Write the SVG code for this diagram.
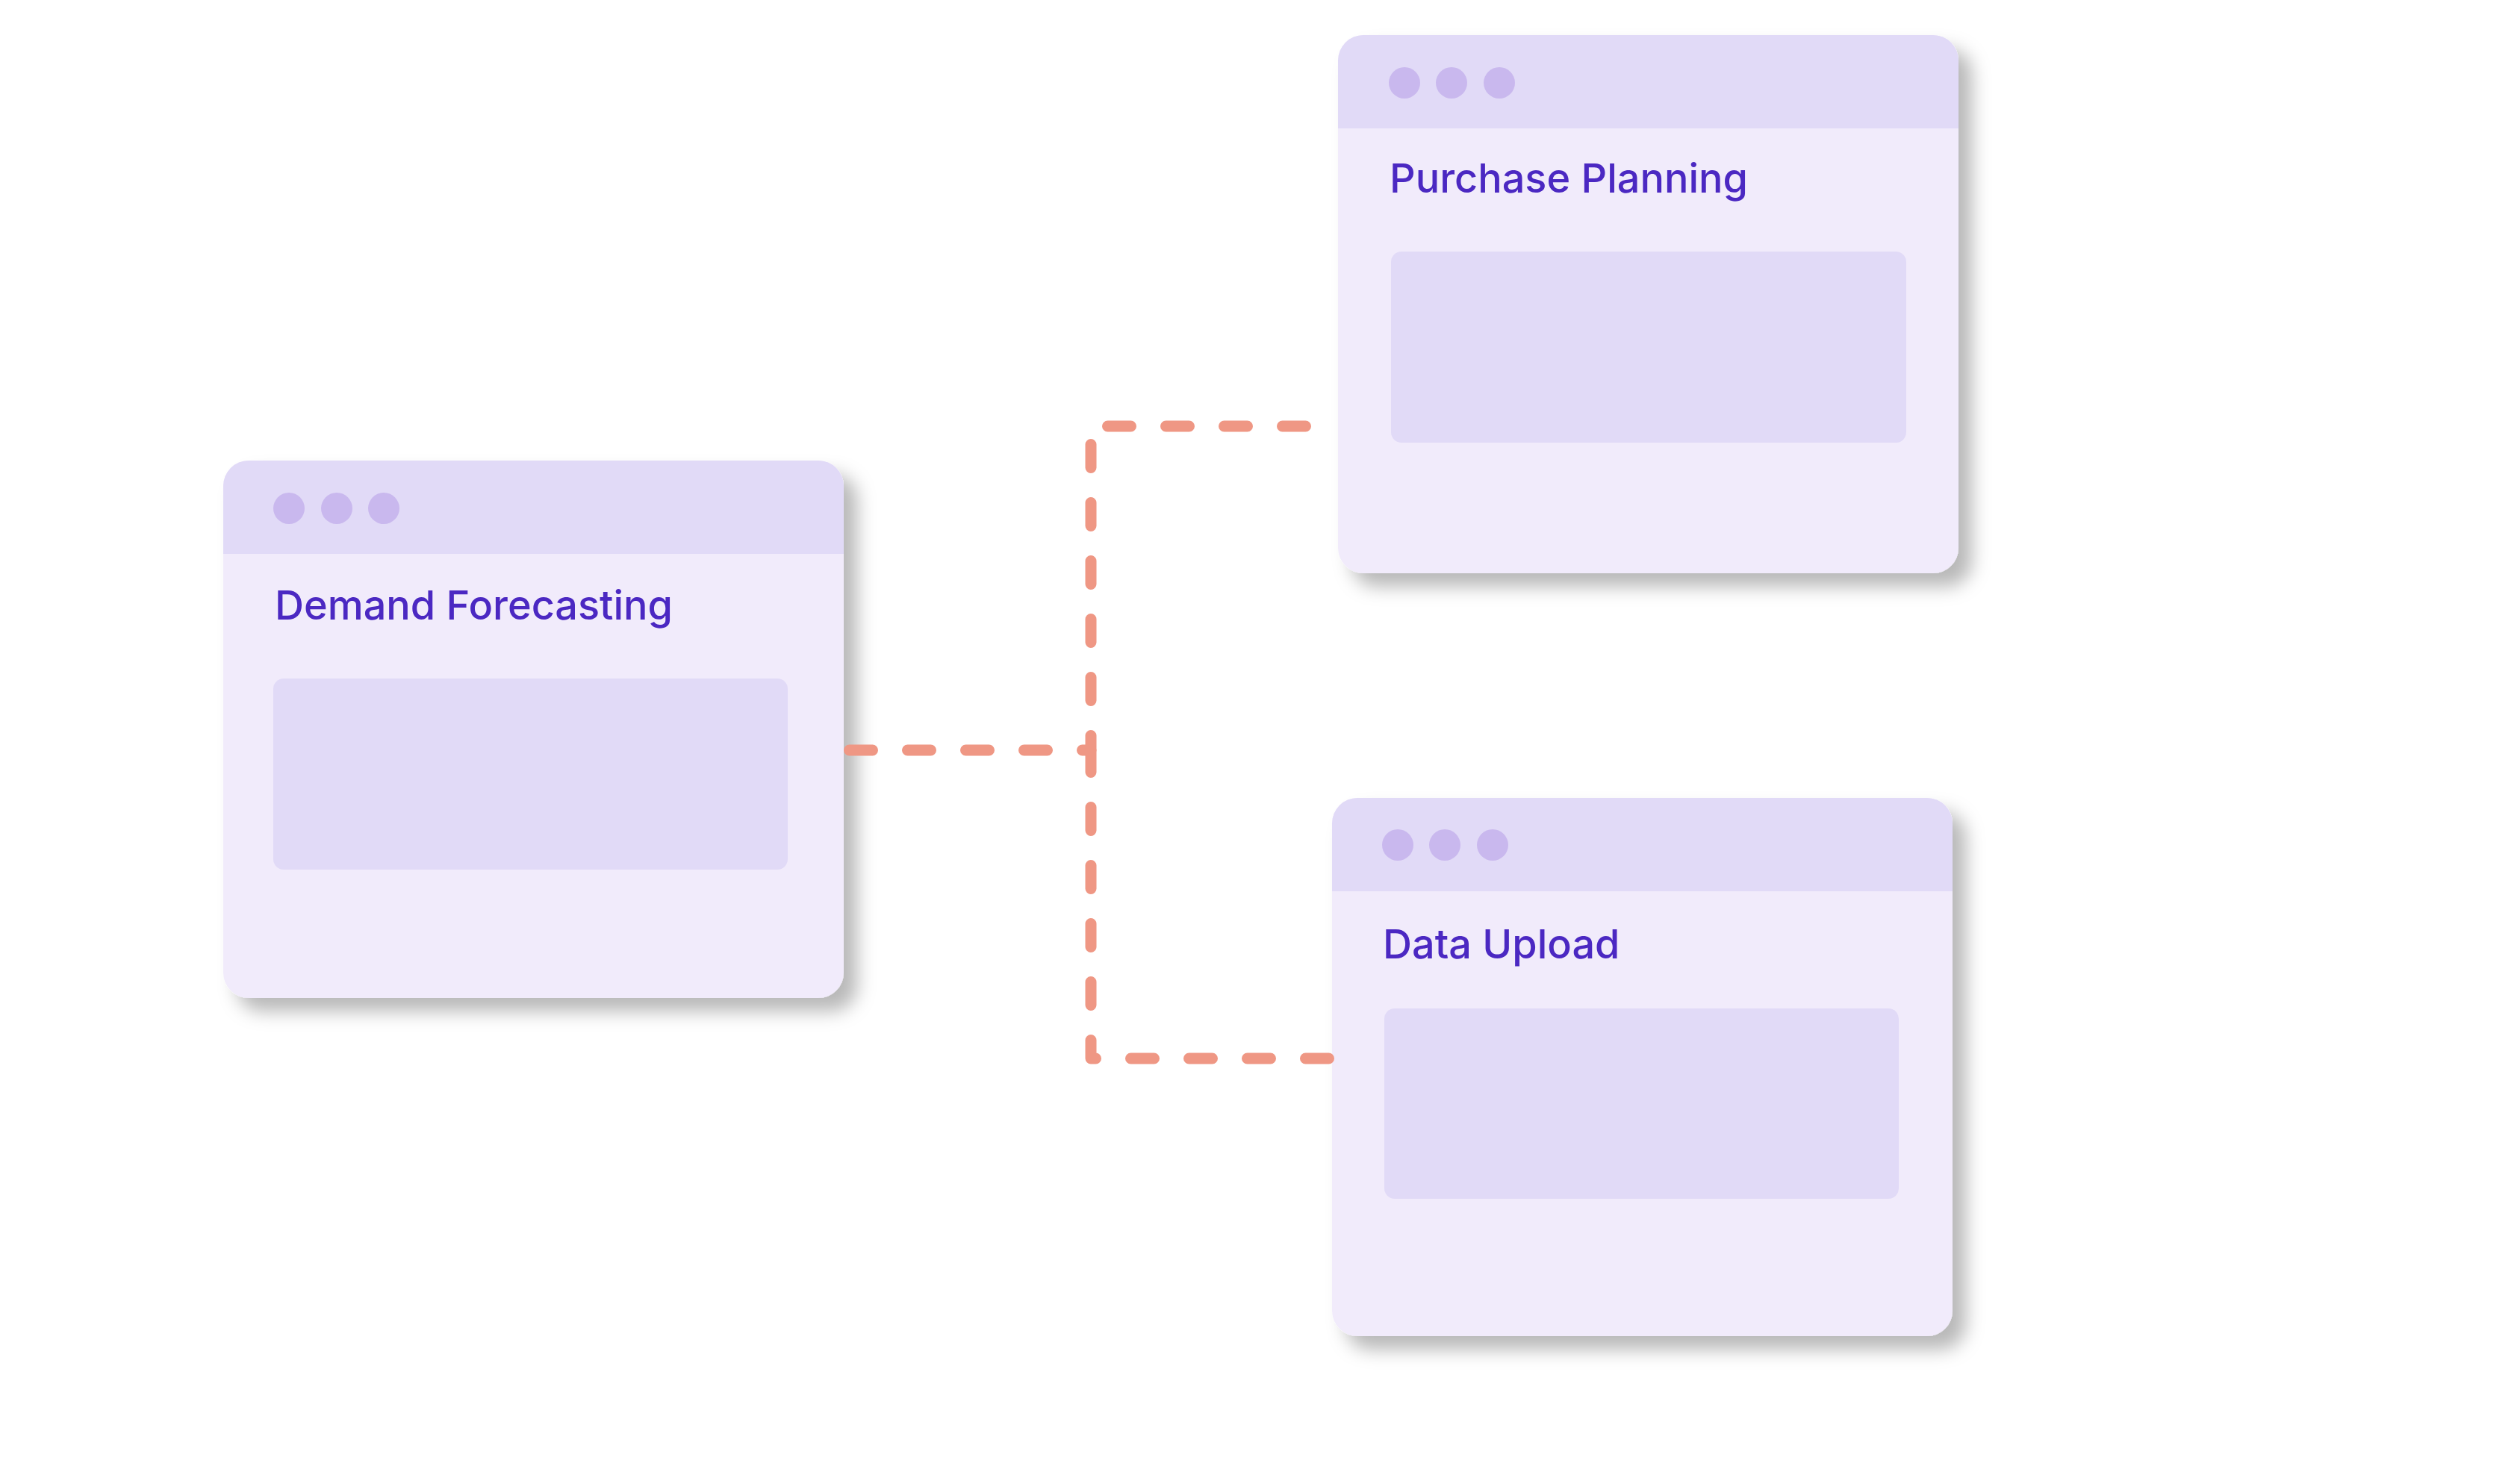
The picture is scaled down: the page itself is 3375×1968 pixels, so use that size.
<svg xmlns="http://www.w3.org/2000/svg" width="3375" height="1968" viewBox="0 0 3375 1968">
  <defs>
    <filter id="shadow" x="-10%" y="-10%" width="130%" height="130%">
      <feDropShadow dx="18" dy="18" stdDeviation="12" flood-color="#000000" flood-opacity="0.28"/>
    </filter>
  </defs>
  <style>
    .body { fill: #F1EBFB; }
    .header { fill: #E1DAF7; }
    .dot { fill: #C9B8EE; }
    .panel { fill: #E1DAF7; }
    .label { font-family: Inter, "Noto Sans", "Liberation Sans", sans-serif; font-size: 54px; font-weight: 500; fill: #4B28C2; }
    .conn { fill: none; stroke: #EF9784; stroke-width: 15; stroke-linecap: round; stroke-linejoin: round; stroke-dasharray: 31 47; }
  </style>
  <rect width="3375" height="1968" fill="#FFFFFF"/>

  <g id="node-demand-forecasting">
    <rect class="body" x="299" y="617" width="831" height="720" rx="34" filter="url(#shadow)"/>
    <path class="header" d="M299,742 V651 A34,34 0 0 1 333,617 H1096 A34,34 0 0 1 1130,651 V742 Z"/>
    <circle class="dot" cx="387" cy="681" r="21"/>
    <circle class="dot" cx="451" cy="681" r="21"/>
    <circle class="dot" cx="514" cy="681" r="21"/>
    <text class="label" x="368" y="830">Demand Forecasting</text>
    <rect class="panel" x="366" y="909" width="689" height="256" rx="14"/>
  </g>

  <g id="node-purchase-planning">
    <rect class="body" x="1792" y="47" width="831" height="721" rx="34" filter="url(#shadow)"/>
    <path class="header" d="M1792,172 V81 A34,34 0 0 1 1826,47 H2589 A34,34 0 0 1 2623,81 V172 Z"/>
    <circle class="dot" cx="1881" cy="111" r="21"/>
    <circle class="dot" cx="1944" cy="111" r="21"/>
    <circle class="dot" cx="2008" cy="111" r="21"/>
    <text class="label" x="1861" y="258">Purchase Planning</text>
    <rect class="panel" x="1863" y="337" width="690" height="256" rx="14"/>
  </g>

  <g id="node-data-upload">
    <rect class="body" x="1784" y="1069" width="831" height="721" rx="34" filter="url(#shadow)"/>
    <path class="header" d="M1784,1194 V1103 A34,34 0 0 1 1818,1069 H2581 A34,34 0 0 1 2615,1103 V1194 Z"/>
    <circle class="dot" cx="1872" cy="1132" r="21"/>
    <circle class="dot" cx="1935" cy="1132" r="21"/>
    <circle class="dot" cx="1999" cy="1132" r="21"/>
    <text class="label" x="1852" y="1284">Data Upload</text>
    <rect class="panel" x="1854" y="1351" width="689" height="255" rx="14"/>
  </g>

  <g id="connectors">
    <path class="conn" d="M1130,1005 H1461 V571 H1792" stroke-dashoffset="70.5"/>
    <path class="conn" d="M1784,1418 H1461 V1005" stroke-dashoffset="73.5"/>
  </g>
</svg>
